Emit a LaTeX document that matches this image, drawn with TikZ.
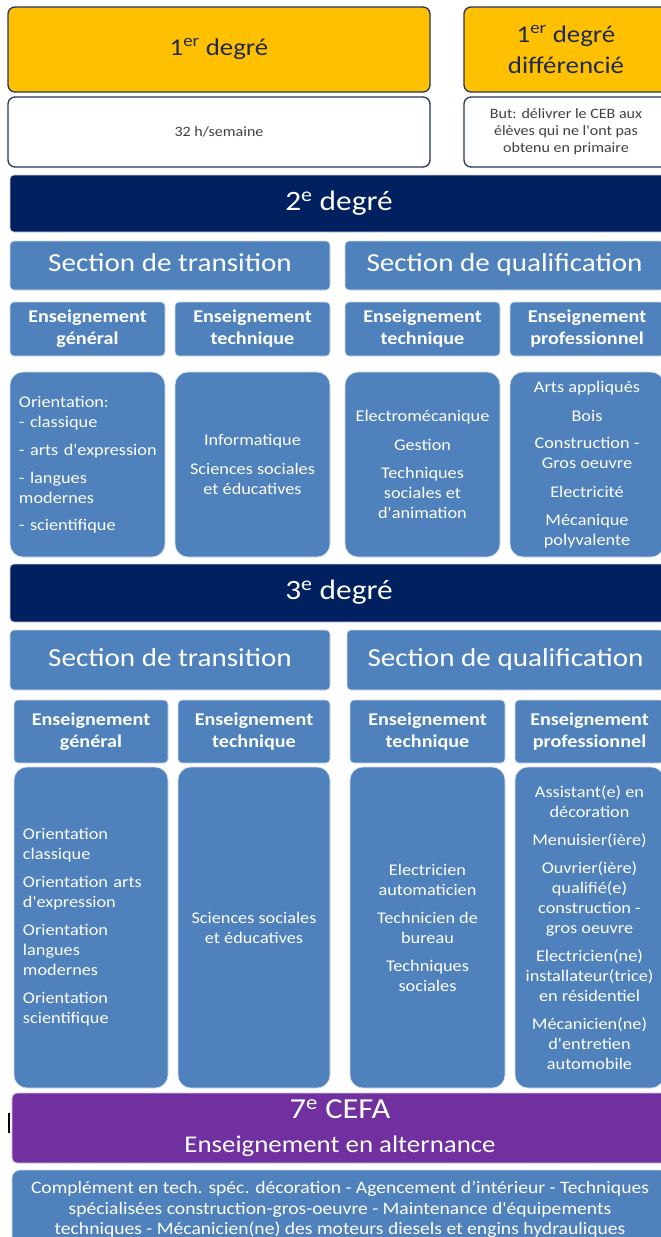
\documentclass[tikz,border=0pt]{standalone}
\usepackage{fontspec}
\setmainfont{Carlito}[FakeStretch=1.12,Ligatures=TeXOff]
\definecolor{yelc}{HTML}{FFC000}
\definecolor{yeltxt}{HTML}{1F2A4E}
\definecolor{edgec}{HTML}{24345E}
\definecolor{navyc}{HTML}{002060}
\definecolor{bluec}{HTML}{4F81BD}
\definecolor{purpc}{HTML}{7030A0}
\newcommand{\bx}[7]{\node[#6,anchor=north west,minimum width={(#4)-(#2)},minimum height={(#5)-(#3)},inner sep=0pt,outer sep=0pt] (#1) at (#2,#3) {#7};}
\tikzset{
  yelbox/.style={fill=yelc,draw=edgec,line width=1.3pt,rounded corners=7pt,text=yeltxt,align=center,font=\fontsize{24}{31}\selectfont},
  whtbox/.style={fill=white,draw=edgec,line width=1.3pt,rounded corners=7pt,text=black!75,align=center,font=\fontsize{14.3}{17}\selectfont},
  bandbox/.style={fill=navyc,draw=white!80!navyc,line width=0.6pt,rounded corners=4pt,text=white,align=center,font=\fontsize{28}{34}\selectfont},
  secbox/.style={fill=bluec,draw=white!75!bluec,line width=0.6pt,rounded corners=4pt,text=white,align=center,font=\fontsize{26}{32}\selectfont},
  ensbox/.style={fill=bluec,draw=white!75!bluec,line width=0.6pt,rounded corners=4pt,text=white,align=center,font=\bfseries\fontsize{18}{22}\selectfont},
  contbox/.style={fill=bluec,draw=white!75!bluec,line width=0.6pt,rounded corners=13pt,text=white,align=center,font=\fontsize{16.3}{20}\selectfont},
  purpbox/.style={fill=purpc,draw=white!75!purpc,line width=0.6pt,rounded corners=5pt,text=white,align=center,font=\fontsize{24}{34}\selectfont},
  botbox/.style={fill=bluec,draw=white!75!bluec,line width=0.6pt,rounded corners=8pt,text=white,align=center,font=\fontsize{17.5}{20.5}\selectfont}
}
\begin{document}
\begin{tikzpicture}[x=1pt,y=-1pt]
\useasboundingbox (0,0) rectangle (661,1237);
\clip (0,0) rectangle (661,1237);
\fill[white] (0,0) rectangle (661,1237);
% 1er degre
\bx{y1a}{8}{7}{430}{92}{yelbox}{\strut 1\textsuperscript{er} degré}
\bx{y1b}{464}{7}{668}{92}{yelbox}{1\textsuperscript{er} degré\\différencié}
\bx{w1a}{8}{97}{430}{167}{whtbox}{32 h/semaine}
\bx{w1b}{464}{97}{668}{167}{whtbox}{But: délivrer le CEB aux\\élèves qui ne l'ont pas\\obtenu en primaire}
% 2e degre
\bx{d2}{10}{175}{668}{232}{bandbox}{\strut 2\textsuperscript{e} degré}
\bx{s2t}{10}{241}{330}{290}{secbox}{\strut Section de transition}
\bx{s2q}{345}{241}{664}{290}{secbox}{\strut Section de qualification}
\bx{e2g}{10}{302}{165}{356}{ensbox}{Enseignement\\général}
\bx{e2t}{175}{302}{330}{356}{ensbox}{Enseignement\\technique}
\bx{e2q}{345}{302}{500}{356}{ensbox}{Enseignement\\technique}
\bx{e2p}{510}{302}{664}{356}{ensbox}{Enseignement\\professionnel}
\bx{c2g}{10}{372}{165}{557}{contbox,align=left,text width=137pt}{Orientation:\\- classique\\[8pt]\mbox{- arts d'expression}\\[8pt]- langues\\modernes\\[7pt]- scientifique}
\bx{c2t}{175}{372}{330}{557}{contbox}{Informatique\\[9pt]Sciences sociales\\et éducatives}
\bx{c2q}{345}{372}{500}{557}{contbox}{Electromécanique\\[9pt]Gestion\\[8pt]Techniques\\sociales et\\d'animation}
\bx{c2p}{510}{372}{664}{557}{contbox}{Arts appliqués\\[9pt]Bois\\[7pt]Construction -\\Gros oeuvre\\[9pt]Electricité\\[8pt]Mécanique\\polyvalente}
% 3e degre
\bx{d3}{10}{564}{668}{622}{bandbox}{\strut 3\textsuperscript{e} degré}
\bx{s3t}{10}{630}{330}{690}{secbox}{\strut Section de transition}
\bx{s3q}{347}{630}{664}{690}{secbox}{\strut Section de qualification}
\bx{e3g}{14}{700}{168}{763}{ensbox}{Enseignement\\général}
\bx{e3t}{178}{700}{330}{763}{ensbox}{Enseignement\\technique}
\bx{e3q}{350}{700}{505}{763}{ensbox}{Enseignement\\technique}
\bx{e3p}{515}{700}{664}{763}{ensbox}{Enseignement\\professionnel}
\bx{c3g}{14}{767}{168}{1088}{contbox,align=left,text width=136pt}{Orientation\\classique\\[8pt]Orientation arts\\d'expression\\[8pt]Orientation\\langues\\modernes\\[8pt]Orientation\\scientifique}
\bx{c3t}{178}{767}{330}{1088}{contbox}{Sciences sociales\\et éducatives}
\bx{c3q}{350}{767}{505}{1088}{contbox}{Electricien\\automaticien\\[8pt]Technicien de\\bureau\\[8pt]Techniques\\sociales}
\bx{c3p}{515}{767}{664}{1088}{contbox}{Assistant(e) en\\décoration\\[8pt]Menuisier(ière)\\[8pt]Ouvrier(ière)\\qualifié(e)\\construction -\\gros oeuvre\\[8pt]Electricien(ne)\\installateur(trice)\\en résidentiel\\[8pt]Mécanicien(ne)\\d'entretien\\automobile}
% 7e CEFA
\bx{cefa}{12}{1093}{668}{1163}{purpbox}{{\fontsize{29}{34}\selectfont 7\textsuperscript{e} CEFA}\\Enseignement en alternance}
\bx{bot}{12}{1170}{668}{1249}{botbox}{Complément en tech. spéc. décoration - Agencement d’intérieur - Techniques\\spécialisées construction-gros-oeuvre - Maintenance d'équipements\\techniques - Mécanicien(ne) des moteurs diesels et engins hydrauliques}
\node[fill=black,inner sep=0pt,minimum width=2.5pt,minimum height=20pt,anchor=north] (cursor) at (9,1113) {};
\end{tikzpicture}
\end{document}
